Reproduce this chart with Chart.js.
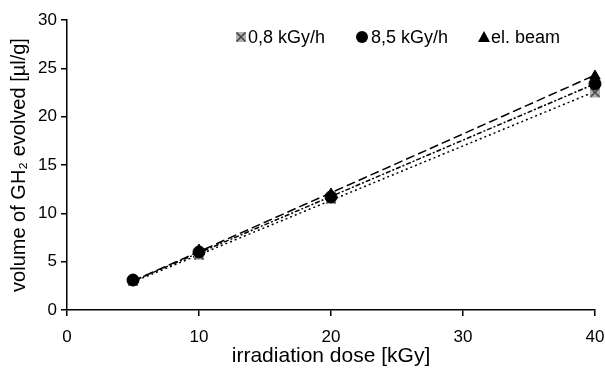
<!DOCTYPE html>
<html>
<head>
<meta charset="utf-8">
<script src="https://cdn.jsdelivr.net/npm/chart.js@4/dist/chart.umd.min.js"></script>
<style>
  html, body { margin: 0; padding: 0; background: #fff; }
  canvas { display: block; }
</style>
</head>
<body>
<canvas id="chart" width="605" height="374"></canvas>
<script>
const doses = [5, 10, 20, 40];
const lowRate = [3.0, 5.7, 11.5, 22.5];
const highRate = [3.1, 6.0, 11.7, 23.4];
const beam = [3.1, 6.2, 12.0, 24.2];

const fitDoses = [5, 40];
const lowFit = [2.9, 22.6];
const highFit = [3.0, 23.4];
const beamFit = [3.0, 24.3];

const labels = ["0,8 kGy/h", "8,5 kGy/h", "el. beam"];
const xTicks = [0, 10, 20, 30, 40];
const yTicks = [0, 5, 10, 15, 20, 25, 30];

const FONT = "'Liberation Sans', Arial, sans-serif";

// grey square with an X on it
function crossBox(size) {
  const c = document.createElement("canvas");
  c.width = size;
  c.height = size;
  const g = c.getContext("2d");
  g.fillStyle = "#b0b0b0";
  g.fillRect(1, 1, size - 2, size - 2);
  g.strokeStyle = "#404040";
  g.lineWidth = 1.5;
  g.beginPath();
  g.moveTo(1.5, 1.5);
  g.lineTo(size - 1.5, size - 1.5);
  g.moveTo(size - 1.5, 1.5);
  g.lineTo(1.5, size - 1.5);
  g.stroke();
  return c;
}
const crossImg = crossBox(12);

function pts(xs, ys) {
  return xs.map((x, i) => ({ x: x, y: ys[i] }));
}

function fitLine(ys, dash) {
  return {
    type: "line",
    data: pts(fitDoses, ys),
    borderColor: "#000",
    borderWidth: 1.5,
    borderDash: dash,
    pointRadius: 0,
    fill: false,
    order: 5,
  };
}

const ctx = document.getElementById("chart").getContext("2d");

// legend drawn in the upper part of the plot
const legendPlugin = {
  id: "topLegend",
  afterDraw(chart) {
    const c = chart.ctx;
    const y = 37;
    const items = [
      { x: 241, marker: "cross" },
      { x: 362, marker: "circle" },
      { x: 484, marker: "triangle" },
    ];
    c.save();
    c.font = "18px " + FONT;
    c.textBaseline = "middle";
    c.fillStyle = "#000";
    items.forEach((it, i) => {
      if (it.marker === "cross") {
        c.drawImage(crossImg, it.x - 6, y - 6);
      } else if (it.marker === "circle") {
        c.beginPath();
        c.arc(it.x, y, 6, 0, Math.PI * 2);
        c.fill();
      } else {
        c.beginPath();
        c.moveTo(it.x, y - 6);
        c.lineTo(it.x + 6, y + 5);
        c.lineTo(it.x - 6, y + 5);
        c.closePath();
        c.fill();
      }
      c.fillText(labels[i], it.x + (it.marker === "circle" ? 9 : 7), y + 1);
    });
    c.restore();
  },
};

new Chart(ctx, {
  type: "scatter",
  data: {
    datasets: [
      fitLine(lowFit, [2, 3]),
      fitLine(highFit, [5, 2, 2, 2]),
      fitLine(beamFit, [9, 4]),
      {
        label: labels[0],
        data: pts(doses, lowRate),
        pointStyle: crossImg,
        order: 3,
      },
      {
        label: labels[1],
        data: pts(doses, highRate),
        pointStyle: "circle",
        pointRadius: 6,
        backgroundColor: "#000",
        borderColor: "#000",
        order: 2,
      },
      {
        label: labels[2],
        data: pts(doses, beam),
        pointStyle: "triangle",
        pointRadius: 6,
        backgroundColor: "#000",
        borderColor: "#000",
        order: 1,
      },
    ],
  },
  options: {
    responsive: false,
    animation: false,
    events: [],
    clip: false,
    layout: { padding: { left: 0, right: 10, top: 20, bottom: 0 } },
    plugins: {
      legend: { display: false },
      tooltip: { enabled: false },
    },
    scales: {
      x: {
        type: "linear",
        min: 0,
        max: 40,
        afterBuildTicks: (axis) => {
          axis.ticks = xTicks.map((v) => ({ value: v }));
        },
        afterFit: (axis) => {
          axis.height = 64;
          axis.paddingLeft = 0;
          axis.paddingRight = 0;
        },
        grid: {
          display: true,
          drawOnChartArea: false,
          drawTicks: true,
          tickLength: 6,
          color: "#000",
          lineWidth: 1.5,
        },
        border: { display: true, color: "#000", width: 1.5 },
        ticks: {
          color: "#000",
          font: { family: FONT, size: 17 },
          padding: 11,
          maxRotation: 0,
        },
        title: {
          display: true,
          text: "irradiation dose [kGy]",
          color: "#000",
          font: { family: FONT, size: 21 },
          padding: { top: 0, bottom: 5 },
        },
      },
      y: {
        min: 0,
        max: 30,
        afterBuildTicks: (axis) => {
          axis.ticks = yTicks.map((v) => ({ value: v }));
        },
        afterFit: (axis) => {
          axis.width = 67;
          axis.paddingTop = 0;
          axis.paddingBottom = 0;
        },
        grid: {
          display: true,
          drawOnChartArea: false,
          drawTicks: true,
          tickLength: 6,
          color: "#000",
          lineWidth: 1.5,
        },
        border: { display: true, color: "#000", width: 1.5 },
        ticks: {
          color: "#000",
          font: { family: FONT, size: 17 },
          padding: 4,
        },
        title: {
          display: true,
          text: "volume of GH\u2082 evolved [\u00b5l/g]",
          color: "#000",
          font: { family: FONT, size: 20 },
          padding: { top: 7, bottom: 2 },
        },
      },
    },
  },
  plugins: [legendPlugin],
});
</script>
</body>
</html>
